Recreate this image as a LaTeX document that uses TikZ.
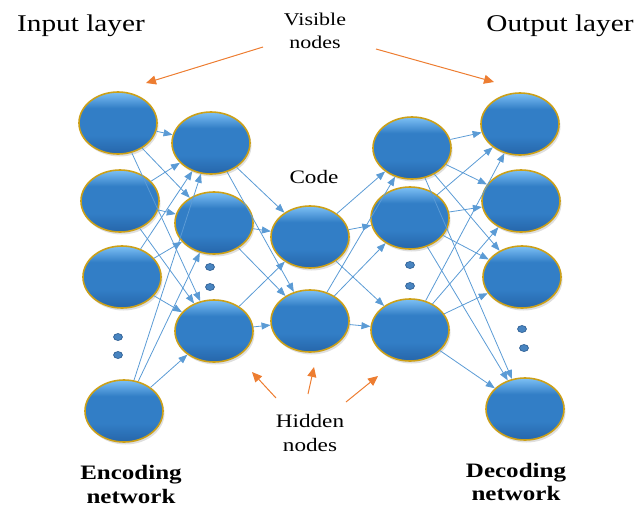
\documentclass[tikz,border=0pt]{standalone}
\usepackage{fontspec}
\usepackage{graphicx}
\setmainfont{Liberation Serif}
\usetikzlibrary{shapes.geometric,arrows.meta,shadows}
\definecolor{linkblue}{RGB}{91,155,213}
\definecolor{orangearr}{RGB}{237,125,49}
\definecolor{goldrim}{RGB}{204,160,24}
\definecolor{balltop}{RGB}{125,192,245}
\definecolor{ballmid}{RGB}{50,126,198}
\definecolor{ballbot}{RGB}{38,102,170}
\definecolor{dotfill}{RGB}{72,132,192}
\definecolor{dotline}{RGB}{38,88,142}
\pgfdeclareverticalshading{ballshade}{100bp}{color(0bp)=(ballbot); color(25bp)=(ballbot); color(40bp)=(ballmid); color(62bp)=(ballmid); color(75bp)=(balltop); color(100bp)=(balltop)}
\newcommand\hs[1]{\scalebox{1.22}[1]{#1}}
\begin{document}
\begin{tikzpicture}[x=1pt,y=-1pt,
  neuron/.style={ellipse, minimum width=78pt, minimum height=62pt, inner sep=0pt,
    shading=ballshade, draw=goldrim, line width=1.6pt,
    drop shadow={shadow xshift=1.5pt, shadow yshift=-2.5pt, opacity=0.25}},
  dotnode/.style={ellipse, minimum width=9pt, minimum height=7pt, inner sep=0pt,
    fill=dotfill, draw=dotline, line width=0.6pt},
  link/.style={draw=linkblue, line width=0.8pt, -{Triangle[length=9pt,width=7pt]}},
  pointer/.style={draw=orangearr, line width=1pt, -{Triangle[length=10pt,width=9pt]}},
  biglbl/.style={font=\fontsize{24}{28}\selectfont, anchor=base, inner sep=0pt},
  lbl/.style={font=\fontsize{18}{23}\selectfont, align=center, inner sep=0pt},
  boldlbl/.style={font=\fontsize{20.5}{23.5}\selectfont\bfseries, align=center, inner sep=0pt}
]
\useasboundingbox (0,0) rectangle (638,507);

% neurons
\node[neuron] (i1) at (118,123) {};
\node[neuron] (i2) at (120,201) {};
\node[neuron] (i3) at (122,277) {};
\node[neuron] (i4) at (124,411) {};
\node[neuron] (h1) at (211,143) {};
\node[neuron] (h2) at (214,223) {};
\node[neuron] (h3) at (214,331) {};
\node[neuron] (c1) at (310,237) {};
\node[neuron] (c2) at (310,321) {};
\node[neuron] (d1) at (412,148) {};
\node[neuron] (d2) at (410,218) {};
\node[neuron] (d3) at (410,330) {};
\node[neuron] (o1) at (520,124) {};
\node[neuron] (o2) at (521,201) {};
\node[neuron] (o3) at (522,277) {};
\node[neuron] (o4) at (525,409) {};

% ellipsis dots
\node[dotnode] (p1) at (118,337) {};
\node[dotnode] (p2) at (118,355) {};
\node[dotnode] (p3) at (210,267) {};
\node[dotnode] (p4) at (210,287) {};
\node[dotnode] (p5) at (410,265) {};
\node[dotnode] (p6) at (410,286) {};
\node[dotnode] (p7) at (522,329) {};
\node[dotnode] (p8) at (524,348) {};

% connections
\foreach \a in {i1,i2,i3,i4}
  \foreach \b in {h1,h2,h3}
    \draw[link] (\a) -- (\b);
\foreach \a in {h1,h2,h3}
  \foreach \b in {c1,c2}
    \draw[link] (\a) -- (\b);
\foreach \a in {c1,c2}
  \foreach \b in {d1,d2,d3}
    \draw[link] (\a) -- (\b);
\foreach \a in {d1,d2,d3}
  \foreach \b in {o1,o2,o3,o4}
    \draw[link] (\a) -- (\b);

% labels
\node[biglbl] (inlab) at (81,31) {\hs{Input layer}};
\node[biglbl] (outlab) at (560,31) {\hs{Output layer}};
\node[lbl] (vis) at (315,30.5) {\hs{Visible}\\\hs{nodes}};
\node[font=\fontsize{19}{23}\selectfont, anchor=base, inner sep=0pt] (code) at (314,183) {\hs{Code}};
\node[lbl, font=\fontsize{19}{24}\selectfont] (hid) at (310,432.5) {\hs{Hidden}\\\hs{nodes}};
\node[boldlbl] (enc) at (131,484.5) {\hs{Encoding}\\\hs{network}};
\node[boldlbl] (dec) at (516,482) {\hs{Decoding}\\\hs{network}};

% pointer arrows
\coordinate (v1) at (263,47);
\coordinate (v2) at (376,49);
\coordinate (t1) at (146,83);
\coordinate (t2) at (494,82);
\draw[pointer] (v1) -- (t1);
\draw[pointer] (v2) -- (t2);
\coordinate (hA) at (276,398);
\coordinate (hB) at (308,394);
\coordinate (hC) at (346,402);
\coordinate (eA) at (252,372);
\coordinate (eB) at (314,367);
\coordinate (eC) at (378,376);
\draw[pointer] (hA) -- (eA);
\draw[pointer] (hB) -- (eB);
\draw[pointer] (hC) -- (eC);
\end{tikzpicture}
\end{document}
